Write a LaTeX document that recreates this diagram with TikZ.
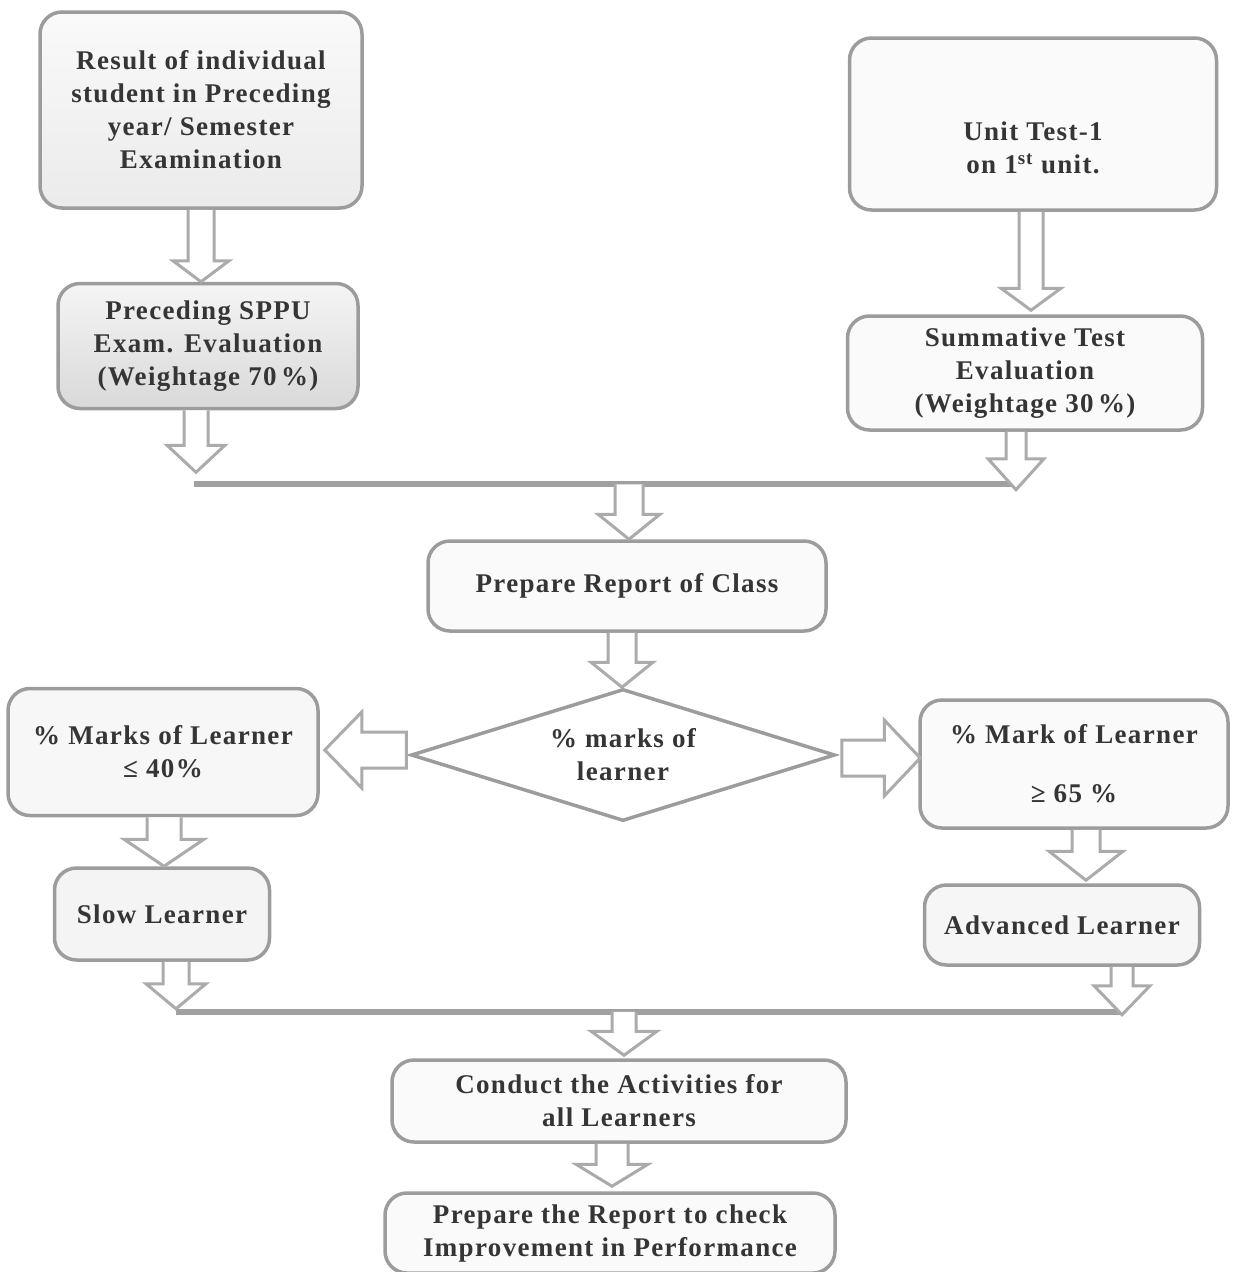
\documentclass[tikz,border=0pt]{standalone}
\usepackage{fontspec}
\setmainfont{Liberation Serif}
\newfontfamily\boxfont[LetterSpace=5]{Liberation Serif}
\usetikzlibrary{calc,shapes.geometric}
\definecolor{txtgray}{HTML}{353535}
\definecolor{bordergray}{HTML}{9C9C9C}
\definecolor{arrgray}{HTML}{ABABAB}
\definecolor{linegray}{HTML}{A0A0A0}
\tikzset{
  box/.style={draw=bordergray, line width=3.5pt, rounded corners=22pt, fill=gray!4,
    inner sep=0pt, align=center, text=txtgray,
    font=\boxfont\bfseries\fontsize{27}{33}\selectfont},
  txt/.style={inner sep=0pt, align=center, text=txtgray,
    font=\boxfont\bfseries\fontsize{27}{33}\selectfont},
  barrow/.style={draw=arrgray, line width=3pt, line join=miter, fill=white},
  joinline/.style={draw=linegray, line width=6pt},
  decision/.style={diamond, draw=bordergray, line width=3.5pt, fill=white, inner sep=0pt}
}
% vertical block arrow: start, tip, shaft half width, head half width, head length
\newcommand{\varr}[5]{%
  \draw[barrow] let \p1=(#1), \p2=(#2) in
   (\x1-#3,\y1) -- (\x1-#3,\y2+#5) -- (\x1-#4,\y2+#5) -- (\x1,\y2)
   -- (\x1+#4,\y2+#5) -- (\x1+#3,\y2+#5) -- (\x1+#3,\y1);}
% horizontal block arrow: start, tip, shaft half height, head half height, signed head length
\newcommand{\harr}[5]{%
  \draw[barrow] let \p1=(#1), \p2=(#2) in
   (\x1,\y1-#3) -- (\x2+#5,\y1-#3) -- (\x2+#5,\y1-#4) -- (\x2,\y1)
   -- (\x2+#5,\y1+#4) -- (\x2+#5,\y1+#3) -- (\x1,\y1+#3) -- cycle;}
\begin{document}
\begin{tikzpicture}[x=1pt,y=-1pt]
\useasboundingbox (0,0) rectangle (1241,1272);

% boxes
\node[box, minimum width=322pt, minimum height=196pt, top color=gray!4, bottom color=gray!16]
  (res) at (201,110) {Result of individual\\student in Preceding\\year/ Semester\\Examination};
\node[box, minimum width=300pt, minimum height=125pt, top color=gray!8, bottom color=gray!30]
  (pre) at (208,346) {Preceding SPPU\\Exam. Evaluation\\(Weightage 70\,\%)};
\node[box, minimum width=367pt, minimum height=172pt] (ut) at (1033,124) {};
\node[txt] (uttext) at ($(ut.center)+(0,24)$) {Unit Test-1\\on 1\textsuperscript{st} unit.};
\node[box, minimum width=355pt, minimum height=114pt] (sum) at (1025,373)
  {Summative Test\\Evaluation\\(Weightage 30\,\%)};
\node[box, minimum width=398pt, minimum height=90pt] (rep) at (627,586) {Prepare Report of Class};
\node[decision, minimum width=424pt, minimum height=132pt] (dia) at (623,755) {};
\node[txt] (diatext) at (dia.center) {\% marks of\\learner};
\node[box, minimum width=310pt, minimum height=127pt, fill=gray!6] (lft) at (163,752)
  {\% Marks of Learner\\≤ 40\%};
\node[box, minimum width=308pt, minimum height=128pt] (rgt) at (1074,764)
  {\% Mark of Learner\\[26pt]≥ 65 \%};
\node[box, minimum width=215pt, minimum height=92pt, fill=gray!9] (slow) at (162,914) {Slow Learner};
\node[box, minimum width=275pt, minimum height=80pt, fill=gray!7] (adv) at (1062,925) {Advanced Learner};
\node[box, minimum width=454pt, minimum height=82pt] (cond) at (619,1101) {Conduct the Activities for\\all Learners};
\node[box, minimum width=450pt, minimum height=80pt] (fin) at (610,1233) {Prepare the Report to check\\Improvement in Performance};

% joining lines
\coordinate (j1a) at ($(pre.south)+(-14,74)$);
\coordinate (j1b) at ($(sum.south)+(-9,55)$);
\draw[joinline] (j1a) -- (j1a -| j1b);
\coordinate (j2a) at ($(slow.south)+(14,50)$);
\coordinate (j2b) at ($(adv.south)+(60,45)$);
\draw[joinline] (j2a) -- (j2a -| j2b);

% block arrows
\varr{$(res.south)+(0,0)$}{$(pre.north)+(-7,0)$}{13pt}{28pt}{21pt}
\varr{$(pre.south)+(-12,0)$}{$(pre.south)+(-12,62)$}{12pt}{29pt}{27pt}
\varr{$(ut.south)+(-2,0)$}{$(sum.north)+(6,-4)$}{12pt}{30pt}{22pt}
\varr{$(sum.south)+(-9,0)$}{$(j1b)+(0,3)$}{10pt}{28pt}{31pt}
\varr{$(j1a -| rep.north)+(2,0)$}{$(rep.north)+(2,0)$}{14pt}{31pt}{25pt}
\varr{$(rep.south)+(-5,0)$}{$(dia.north)+(-2,0)$}{14pt}{31pt}{25pt}
\harr{$(dia.west)+(-3,-5)$}{$(lft.east)+(5,0)$}{18pt}{38pt}{37pt}
\harr{$(dia.east)+(5,3)$}{$(rgt.west)+(2,0)$}{18pt}{38pt}{-36pt}
\varr{$(lft.south)+(1,0)$}{$(slow.north)+(2,0)$}{17pt}{40pt}{27pt}
\varr{$(rgt.south)+(12,0)$}{$(adv.north)+(24,-3)$}{14pt}{37pt}{29pt}
\varr{$(slow.south)+(14,0)$}{$(j2a)+(0,-3)$}{13pt}{30pt}{25pt}
\varr{$(adv.south)+(60,0)$}{$(j2b)+(0,3)$}{11pt}{28pt}{29pt}
\varr{$(j2a -| cond.north)+(5,0)$}{$(cond.north)+(5,-3)$}{12pt}{33pt}{24pt}
\varr{$(cond.south)+(-7,0)$}{$(fin.north)+(2,-5)$}{16pt}{36pt}{22pt}
\end{tikzpicture}
\end{document}
